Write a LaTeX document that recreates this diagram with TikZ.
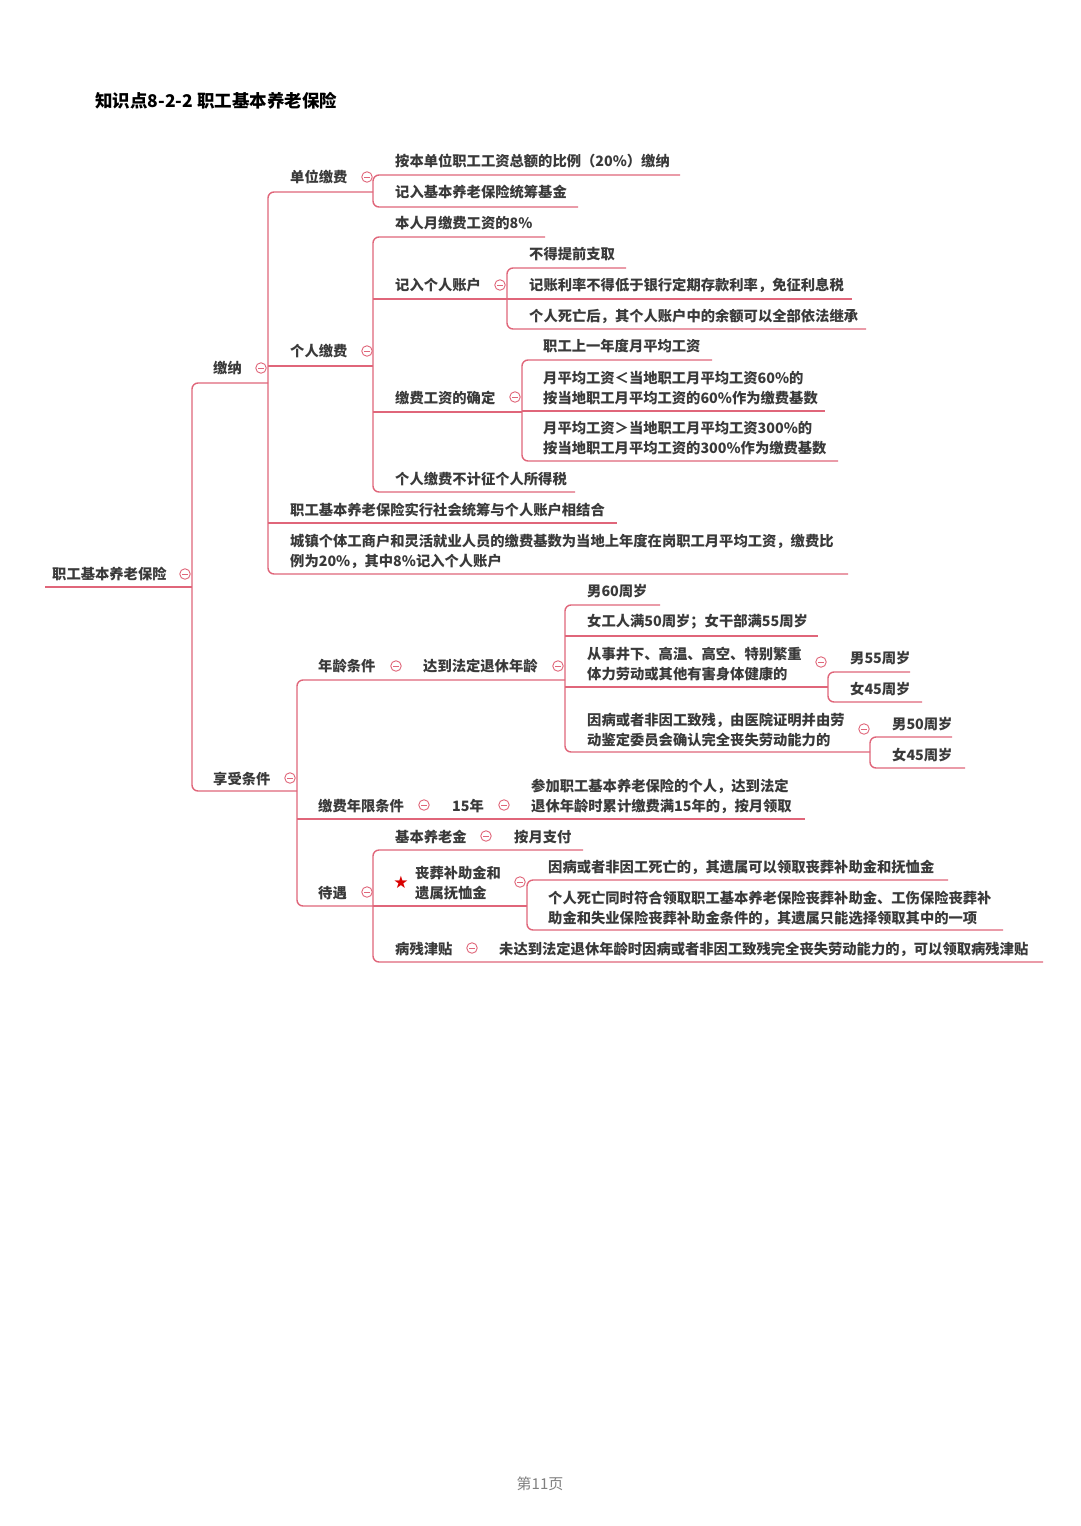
\documentclass[tikz,border=0pt]{standalone}
\usepackage{fontspec}
\newfontfamily\cjk{Noto Sans CJK SC}
\newfontfamily\sym{DejaVu Sans}
\definecolor{lnc}{HTML}{E0667A}
\definecolor{txc}{HTML}{3A3A3A}
\tikzset{
  t/.style={anchor=west,inner sep=0pt,text=txc,align=left,font=\cjk\bfseries\fontsize{14.3}{20}\selectfont},
  ln/.style={draw=lnc,line width=1.4pt},
  bar/.style={draw=lnc,line width=1.4pt,rounded corners=6pt},
  oc/.style={circle,draw=lnc,line width=0.9pt,minimum size=10.5pt,inner sep=0pt,path picture={\draw[lnc,line width=0.8pt] ([xshift=-2.6pt]path picture bounding box.center)--([xshift=2.6pt]path picture bounding box.center);}}
}
% \U{x1}{y}{x2}
\newcommand\U[3]{\draw[ln] (#1,#2) -- (#3,#2);}
% \B{xb}{ytop}{xtop-end}{ybot}{xbot-end}
\newcommand\B[5]{\draw[bar] (#3,#2) -- (#1,#2) -- (#1,#4) -- (#5,#4);}
\begin{document}
\begin{tikzpicture}[x=1pt,y=-1pt]
\useasboundingbox (0,0) rectangle (1080,1526);
\fill[white] (0,0) rectangle (1080,1526);
\node[t,font=\cjk\bfseries\fontsize{17.5}{20}\selectfont,text=black] (title) at (95,101) {知识点8-2-2 职工基本养老保险};
\node[anchor=center,text=gray,font=\cjk\fontsize{15}{18}\selectfont] (foot) at (540,1484) {第11页};
% root
\node[t] (root) at (52,574) {职工基本养老保险}; \node[oc] (c0) at (185,574) {};
\U{45}{587}{192}
\B{192}{383}{268}{791}{297}
% 缴纳
\node[t] (jn) at (213,368) {缴纳}; \node[oc] (c1) at (261,368) {};
\B{268}{192}{373}{574}{848}
\node[t] (dw) at (290,177) {单位缴费}; \node[oc] (c2) at (367,177) {};
\B{373}{175}{680}{207}{578}
\node[t] (dw1) at (395,161) {按本单位职工工资总额的比例（20\%）缴纳};
\node[t] (dw2) at (395,192) {记入基本养老保险统筹基金};
\node[t] (gr) at (290,351) {个人缴费}; \node[oc] (c3) at (367,351) {};
\U{268}{366}{373}
\B{373}{237}{545}{492}{575}
\node[t] (gr1) at (395,223) {本人月缴费工资的8\%};
\node[t] (gr2) at (395,285) {记入个人账户}; \node[oc] (c4) at (500,285) {};
\U{373}{299}{507}
\B{507}{268}{626}{329}{866}
\U{507}{299}{852}
\node[t] (a1) at (529,254) {不得提前支取};
\node[t] (a2) at (529,285) {记账利率不得低于银行定期存款利率，免征利息税};
\node[t] (a3) at (529,316) {个人死亡后，其个人账户中的余额可以全部依法继承};
\node[t] (gr3) at (395,398) {缴费工资的确定}; \node[oc] (c5) at (515,397) {};
\U{373}{412}{522}
\B{522}{360}{712}{461}{838}
\U{522}{411}{825}
\node[t] (b1) at (543,346) {职工上一年度月平均工资};
\node[t] (b2) at (543,388) {月平均工资＜当地职工月平均工资60\%的\\按当地职工月平均工资的60\%作为缴费基数};
\node[t] (b3) at (543,438) {月平均工资＞当地职工月平均工资300\%的\\按当地职工月平均工资的300\%作为缴费基数};
\node[t] (gr4) at (395,479) {个人缴费不计征个人所得税};
\node[t] (jn3) at (290,510) {职工基本养老保险实行社会统筹与个人账户相结合};
\U{268}{523}{617}
\node[t] (jn4) at (290,551) {城镇个体工商户和灵活就业人员的缴费基数为当地上年度在岗职工月平均工资，缴费比\\例为20\%，其中8\%记入个人账户};
% 享受条件
\node[t] (xs) at (213,779) {享受条件}; \node[oc] (c6) at (290,778) {};
\B{297}{680}{565}{906}{373}
\node[t] (nl) at (318,666) {年龄条件}; \node[oc] (c7) at (396,666) {};
\node[t] (dd) at (423,666) {达到法定退休年龄}; \node[oc] (c8) at (558,666) {};
\B{565}{605}{660}{752}{870}
\U{565}{636}{818}
\U{565}{687}{828}
\node[t] (n1) at (587,591) {男60周岁};
\node[t] (n2) at (587,622) {女工人满50周岁；女干部满55周岁};
\node[t] (n3) at (587,664) {从事井下、高温、高空、特别繁重\\体力劳动或其他有害身体健康的}; \node[oc] (c9) at (821,662) {};
\B{828}{672}{910}{702}{922}
\node[t] (n31) at (850,658) {男55周岁};
\node[t] (n32) at (850,689) {女45周岁};
\node[t] (n4) at (587,730) {因病或者非因工致残，由医院证明并由劳\\动鉴定委员会确认完全丧失劳动能力的}; \node[oc] (c10) at (864,729) {};
\B{870}{737}{952}{768}{965}
\node[t] (n41) at (892,724) {男50周岁};
\node[t] (n42) at (892,755) {女45周岁};
\node[t] (jf) at (318,806) {缴费年限条件}; \node[oc] (c11) at (424,805) {};
\node[t] (y15) at (452,806) {15年}; \node[oc] (c12) at (504,805) {};
\node[t] (jf1) at (531,796) {参加职工基本养老保险的个人，达到法定\\退休年龄时累计缴费满15年的，按月领取};
\U{297}{819}{805}
\node[t] (dy) at (318,893) {待遇}; \node[oc] (c13) at (367,892) {};
\B{373}{850}{583}{962}{1043}
\node[t] (d1) at (395,837) {基本养老金}; \node[oc] (c14) at (486,836) {};
\node[t] (d1a) at (514,837) {按月支付};
\node[text=red!85!black,font=\sym\fontsize{17}{17}\selectfont,inner sep=0pt] (star) at (401,882) {★};
\node[t] (d2) at (415,883) {丧葬补助金和\\遗属抚恤金}; \node[oc] (c15) at (520,882) {};
\U{373}{906}{527}
\B{527}{880}{948}{930}{1003}
\node[t] (e1) at (548,867) {因病或者非因工死亡的，其遗属可以领取丧葬补助金和抚恤金};
\node[t] (e2) at (548,908) {个人死亡同时符合领取职工基本养老保险丧葬补助金、工伤保险丧葬补\\助金和失业保险丧葬补助金条件的，其遗属只能选择领取其中的一项};
\node[t] (d3) at (395,949) {病残津贴}; \node[oc] (c16) at (472,948) {};
\node[t] (d3a) at (499,949) {未达到法定退休年龄时因病或者非因工致残完全丧失劳动能力的，可以领取病残津贴};
\end{tikzpicture}
\end{document}
